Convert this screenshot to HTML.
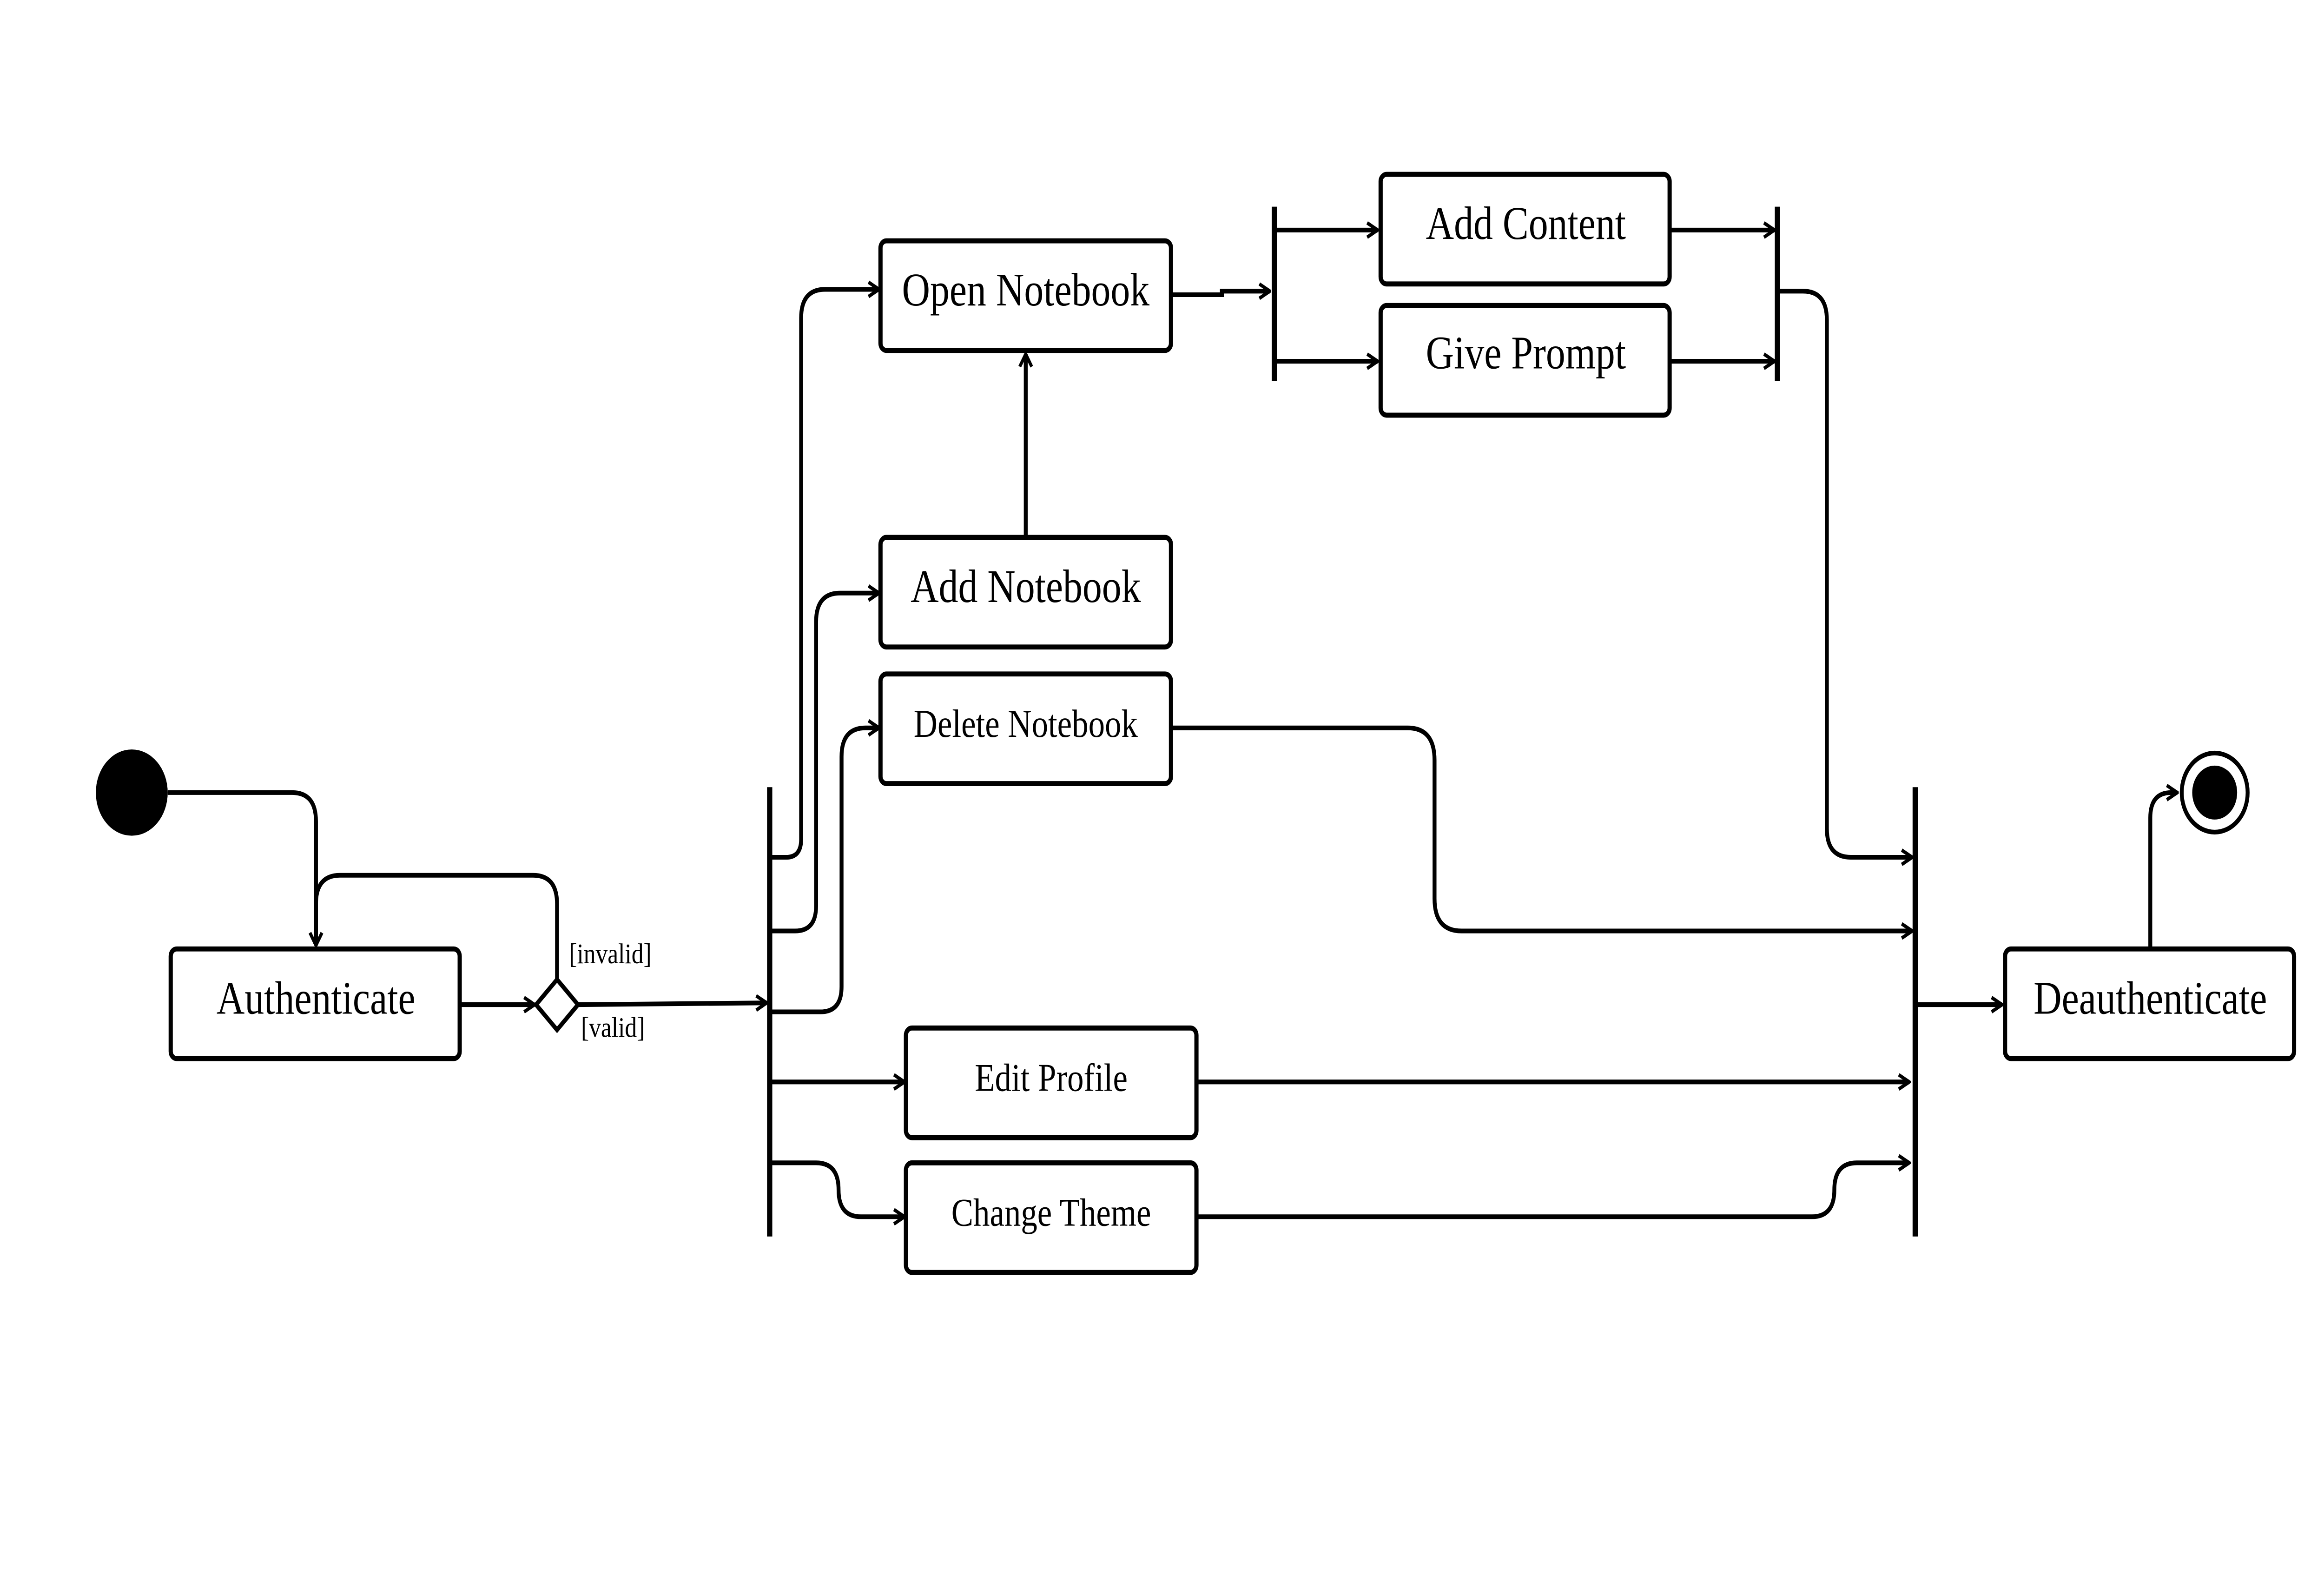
<!DOCTYPE html>
<html><head><meta charset="utf-8"><style>
html,body{margin:0;padding:0;background:#fff;width:100%;height:100%;overflow:hidden;}
svg{display:block;position:fixed;left:0;top:0;width:100vw;height:100vh;}
text{font-family:"Liberation Serif",serif;fill:#000;}
</style></head><body>
<svg viewBox="0 0 1552 873" preserveAspectRatio="none" xmlns="http://www.w3.org/2000/svg">
<defs>
<marker id="a" viewBox="0 0 10 10" refX="9" refY="5" markerWidth="10" markerHeight="10" markerUnits="userSpaceOnUse" orient="auto">
<polyline points="2,1 9,5 2,9" fill="none" stroke="#000" stroke-width="2"/>
</marker>
</defs>
<rect width="1552" height="873" fill="#fff"/>
<g fill="none" stroke="#000" stroke-width="2.6">
<path d="M112 441 H195 Q211 441 211 457 V526" marker-end="url(#a)"/>
<path d="M372 545 V503 Q372 487 356 487 H227 Q211 487 211 503 V526" marker-end="url(#a)"/>
<path d="M307 559 H357" marker-end="url(#a)"/>
<path d="M386 559 L512 558" marker-end="url(#a)"/>
<path d="M514 477 H525 Q535 477 535 467 V177 Q535 161 551 161 H587" marker-end="url(#a)"/>
<path d="M514 518 H531 Q545 518 545 504 V346 Q545 330 561 330 H587" marker-end="url(#a)"/>
<path d="M514 563 H548 Q562 563 562 549 V421 Q562 405 578 405 H587" marker-end="url(#a)"/>
<path d="M514 602 H604" marker-end="url(#a)"/>
<path d="M514 647 H545 Q560 647 560 662 Q560 677 575 677 H604" marker-end="url(#a)"/>
<path d="M685 299 V197" marker-end="url(#a)"/>
<path d="M782 164 H816 V162 H848" marker-end="url(#a)"/>
<path d="M851 128 H920" marker-end="url(#a)"/>
<path d="M851 201 H920" marker-end="url(#a)"/>
<path d="M1115 128 H1185" marker-end="url(#a)"/>
<path d="M1115 201 H1185" marker-end="url(#a)"/>
<path d="M1187 162 H1204 Q1220 162 1220 178 V461 Q1220 477 1236 477 H1277" marker-end="url(#a)"/>
<path d="M782 405 H940 Q958 405 958 423 V500 Q958 518 976 518 H1277" marker-end="url(#a)"/>
<path d="M799 602 H1275" marker-end="url(#a)"/>
<path d="M799 677 H1210 Q1225 677 1225 662 Q1225 647 1240 647 H1275" marker-end="url(#a)"/>
<path d="M1279 559 H1337" marker-end="url(#a)"/>
<path d="M1436 528 V455 Q1436 441 1450 441 H1454" marker-end="url(#a)"/>
</g>
<g stroke="#000" stroke-width="3.5">
<line x1="514" y1="438" x2="514" y2="688"/>
<line x1="1279" y1="438" x2="1279" y2="688"/>
<line x1="851" y1="115" x2="851" y2="212"/>
<line x1="1187" y1="115" x2="1187" y2="212"/>
</g>
<circle cx="88" cy="441" r="24" fill="#000"/>
<circle cx="1479" cy="441" r="22" fill="#fff" stroke="#000" stroke-width="2.6"/>
<circle cx="1479" cy="441" r="15" fill="#000"/>
<polygon points="372,545 386,559 372,573 358,559" fill="#fff" stroke="#000" stroke-width="2.6"/>
<g fill="#fff" stroke="#000" stroke-width="2.8">
<rect x="114" y="528" width="193" height="61" rx="4"/>
<rect x="588" y="134" width="194" height="61" rx="4"/>
<rect x="588" y="299" width="194" height="61" rx="4"/>
<rect x="588" y="375" width="194" height="61" rx="4"/>
<rect x="605" y="572" width="194" height="61" rx="4"/>
<rect x="605" y="647" width="194" height="61" rx="4"/>
<rect x="922" y="97" width="193" height="61" rx="4"/>
<rect x="922" y="170" width="193" height="61" rx="4"/>
<rect x="1339" y="528" width="193" height="61" rx="4"/>
</g>
<g text-anchor="middle">
<text x="211" y="564" font-size="26">Authenticate</text>
<text x="685" y="170" font-size="26">Open Notebook</text>
<text x="685" y="335" font-size="26">Add Notebook</text>
<text x="685" y="410" font-size="22">Delete Notebook</text>
<text x="702" y="607" font-size="22">Edit Profile</text>
<text x="702" y="682" font-size="22">Change Theme</text>
<text x="1019" y="133" font-size="26">Add Content</text>
<text x="1019" y="205" font-size="26">Give Prompt</text>
<text x="1436" y="564" font-size="26">Deauthenticate</text>
</g>
<text x="380" y="536" font-size="16">[invalid]</text>
<text x="388" y="577" font-size="16">[valid]</text>
</svg>
</body></html>
